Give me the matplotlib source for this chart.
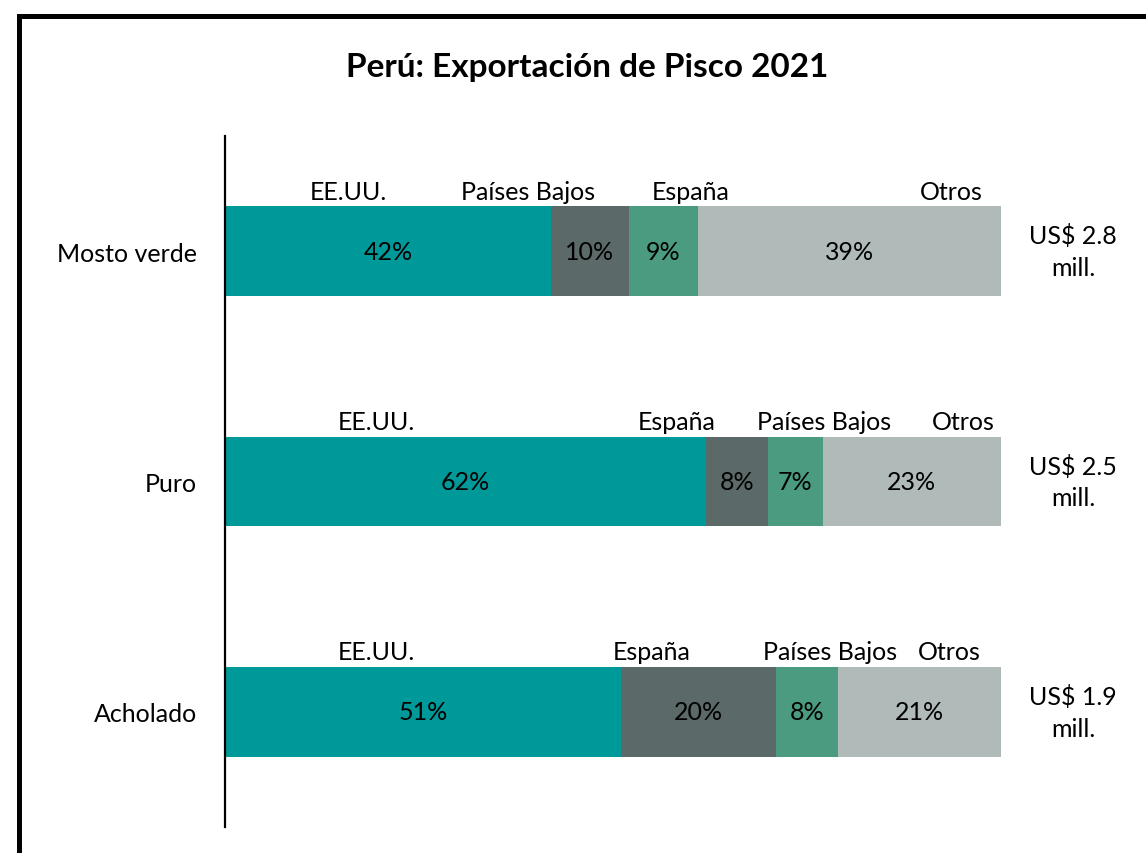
import matplotlib.pyplot as plt
from matplotlib.lines import Line2D

# data
tipos = ['Mosto verde', 'Puro', 'Acholado']
seg1 = [42, 62, 51]
seg2 = [10, 8, 20]
seg3 = [9, 7, 8]
seg4 = [39, 23, 21]
nombres = [['EE.UU.', 'Países Bajos', 'España', 'Otros'],
           ['EE.UU.', 'España', 'Países Bajos', 'Otros'],
           ['EE.UU.', 'España', 'Países Bajos', 'Otros']]
totales = ['US$ 2.8\nmill.', 'US$ 2.5\nmill.', 'US$ 1.9\nmill.']

# x position (in %) of the country names above the bars
name_x = [[15.9, 39.0, 60.0, 93.6],
          [19.5, 58.2, 77.2, 95.1],
          [19.5, 55.0, 78.0, 93.3]]

colors = ['#009999', '#5b6969', '#4b9b80', '#afbab9']

plt.rcParams['font.family'] = ['Lato', 'DejaVu Sans']
fs = 18

fig = plt.figure(figsize=(11.46, 8.54), dpi=100)
ax = fig.add_axes([225/1146, 1 - 828/854, 776/1146, 691/854])

segs = [seg1, seg2, seg3, seg4]
ypos = list(range(len(tipos)))
left = [0]*len(tipos)
h = 0.39
for s, c in zip(segs, colors):
    ax.barh(ypos, s, left=left, height=h, color=c, edgecolor='none')
    for i in ypos:
        ax.text(left[i] + s[i]/2, i, f'{s[i]}%', ha='center', va='center', fontsize=fs)
    left = [l + v for l, v in zip(left, s)]

for i in ypos:
    for nm, xx in zip(nombres[i], name_x[i]):
        ax.text(xx, i - h/2 - 0.015, nm, ha='center', va='bottom', fontsize=fs)
    ax.text(109.3, i, totales[i], ha='center', va='center', fontsize=fs, linespacing=1.45)

ax.set_xlim(0, 100)
ax.set_ylim(2.5, -0.5)
ax.set_yticks(ypos)
ax.set_yticklabels(tipos, fontsize=fs)
ax.tick_params(axis='y', length=0, pad=20)
ax.set_xticks([])
for sp in ['top', 'right', 'bottom']:
    ax.spines[sp].set_visible(False)
ax.spines['left'].set_linewidth(1.6)

fig.text(587/1146, 1 - 68/854, 'Perú: Exportación de Pisco 2021', ha='center', va='center',
         fontsize=24, fontweight='bold')

# chart border
fig.add_artist(Line2D([19/1146, 19/1146], [0, 1 - 17/854], color='black', lw=3.6,
                      transform=fig.transFigure, solid_capstyle='projecting'))
fig.add_artist(Line2D([19/1146, 1], [1 - 17/854, 1 - 17/854], color='black', lw=3.6,
                      transform=fig.transFigure, solid_capstyle='projecting'))

fig.savefig('out.png', dpi=100)
